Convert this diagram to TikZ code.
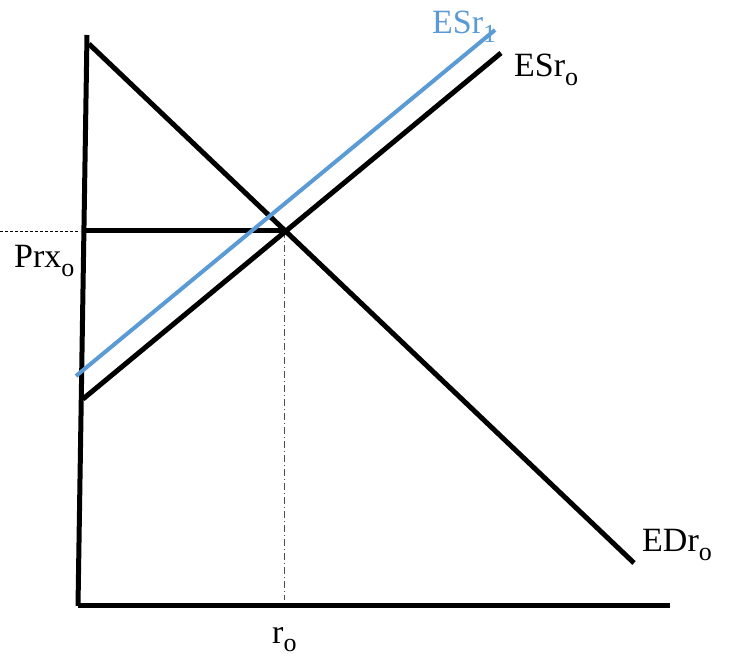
\documentclass[tikz,border=0pt]{standalone}
\usepackage{fontspec}
\setmainfont{Liberation Serif}
\definecolor{esblue}{RGB}{91,155,213}
\newcommand{\lbl}[2]{#1\raisebox{-9pt}{\fontsize{26}{26}\selectfont #2}}
\begin{document}
\begin{tikzpicture}[x=1pt,y=-1pt,
  axis/.style={line width=5pt},
  curve/.style={line width=5pt},
  bluecurve/.style={line width=4pt,color=esblue},
  guide/.style={line width=0.8pt,dash pattern=on 3pt off 2pt},
  dashdot/.style={line width=0.8pt,color=black!70,dash pattern=on 7pt off 3pt on 1pt off 3pt},
  lab/.style={inner sep=0pt,anchor=base west,font=\fontsize{34}{34}\selectfont}]
\useasboundingbox (0,0) rectangle (732,660);
% coordinates
\coordinate (ytop) at (87,35);
\coordinate (orig) at (78,606);
\coordinate (xend) at (670,606);
\coordinate (dtop) at (89,44);
\coordinate (dbot) at (634,563);
\coordinate (s0a) at (83,399);
\coordinate (s0b) at (501,53);
\coordinate (s1a) at (76,376);
\coordinate (s1b) at (495,30);
\coordinate (eq) at (284,231);
\coordinate (pax) at (85,231);
\coordinate (pleft) at (0,231);
\coordinate (pend) at (80,231);
\coordinate (rax) at (284,600);
% axes
\draw[axis] (ytop) -- (orig);
\draw[axis] (orig) -- (xend);
% guides
\draw[guide] (pleft) -- (pend);
\draw[dashdot] (eq) -- (rax);
\draw[curve] (pax) -- (eq);
% curves
\draw[curve] (dtop) -- (dbot);
\draw[curve] (s0a) -- (s0b);
\draw[bluecurve] (s1a) -- (s1b);
% labels
\node[lab,text=esblue] (l1) at (432,34) {\lbl{ESr}{1}};
\node[lab] (l0) at (514,77) {\lbl{ESr}{o}};
\node[lab] (ld) at (642,552) {\lbl{EDr}{o}};
\node[lab] (lp) at (14,268) {\lbl{Prx}{o}};
\node[lab] (lr) at (272,643) {\lbl{r}{o}};
\end{tikzpicture}
\end{document}
